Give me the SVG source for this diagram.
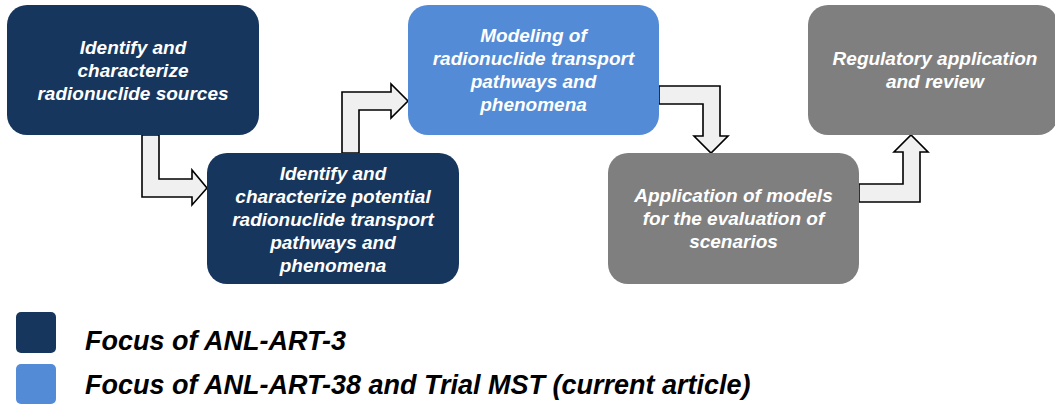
<svg xmlns="http://www.w3.org/2000/svg" width="1055" height="407" viewBox="0 0 1055 407">
<style>
.box{stroke:none}
.dark{fill:#17365d}
.light{fill:#538bd6}
.gray{fill:#7f7f7f}
.t{font-family:"Liberation Sans",Arial,Helvetica,sans-serif;font-weight:bold;font-style:italic;font-size:19px;fill:#ffffff;text-anchor:middle}
.arr{fill:#f0f0f0;stroke:#000000;stroke-width:1.6;stroke-linejoin:miter}
.leg{font-family:"Liberation Sans",Arial,Helvetica,sans-serif;font-weight:bold;font-style:italic;font-size:27px;fill:#000000}
</style>
<rect width="1055" height="407" fill="#ffffff"/>
<g id="connectors">
<polygon class="arr" points="142,135 159,135 159,179 192,179 192,170 207,188 192,205 192,197 142,197"/>
<polygon class="arr" points="342,153 359,153 359,110 391,110 391,118 408,101 391,84 391,92 342,92"/>
<polygon class="arr" points="659,86 720,86 720,136 728,136 711,153 694,136 703,136 703,104 659,104"/>
<polygon class="arr" points="859,184 903,184 903,152 894,152 911,135 928,152 920,152 920,202 859,202"/>
</g>
<g id="node1">
<rect class="box dark" x="7" y="5" width="252" height="130" rx="20"/>
<text class="t" x="133" y="54">Identify and</text>
<text class="t" x="133" y="77">characterize</text>
<text class="t" x="133" y="100">radionuclide sources</text>
</g>
<g id="node2">
<rect class="box dark" x="207" y="153" width="252" height="131" rx="20"/>
<text class="t" x="333" y="180">Identify and</text>
<text class="t" x="333" y="203">characterize potential</text>
<text class="t" x="333" y="226">radionuclide transport</text>
<text class="t" x="333" y="249">pathways and</text>
<text class="t" x="333" y="272">phenomena</text>
</g>
<g id="node3">
<rect class="box light" x="408" y="5" width="251" height="130" rx="20"/>
<text class="t" x="533.5" y="42">Modeling of</text>
<text class="t" x="533.5" y="65">radionuclide transport</text>
<text class="t" x="533.5" y="88">pathways and</text>
<text class="t" x="533.5" y="111">phenomena</text>
</g>
<g id="node4">
<rect class="box gray" x="608" y="153" width="251" height="131" rx="20"/>
<text class="t" x="733.5" y="202">Application of models</text>
<text class="t" x="733.5" y="225">for the evaluation of</text>
<text class="t" x="733.5" y="248">scenarios</text>
</g>
<g id="node5">
<rect class="box gray" x="808" y="5" width="250" height="130" rx="20"/>
<text class="t" x="935" y="65">Regulatory application</text>
<text class="t" x="935" y="88">and review</text>
</g>
<g id="legend">
<rect class="dark" x="16" y="312" width="40" height="41" rx="5"/>
<rect class="light" x="16" y="364" width="40" height="40" rx="5"/>
<text class="leg" x="85" y="350">Focus of ANL-ART-3</text>
<text class="leg" x="85" y="394">Focus of ANL-ART-38 and Trial MST (current article)</text>
</g>
</svg>
